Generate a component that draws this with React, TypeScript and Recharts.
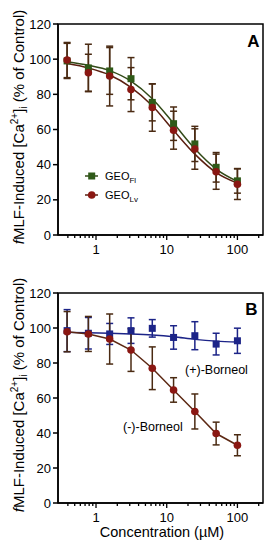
import React from 'react';
import { ComposedChart, Line, XAxis, YAxis, ErrorBar, ReferenceArea } from 'recharts';

// concentrations (µM)
const conc = [0.39, 0.78, 1.56, 3.125, 6.25, 12.5, 25, 50, 100];

// panel A
const geoFl = [99, 95, 93.3, 88.9, 75.4, 63.3, 51.8, 38.5, 30.8];
const geoFlErr = [10, 13.5, 13.3, 12, 10.5, 9.5, 10, 8.4, 7];
const geoFlFit = [98.5, 96.5, 93.5, 87.5, 77.5, 63.5, 49, 37.5, 30.5];
const geoLv = [99.5, 92.3, 90.4, 82.7, 72.5, 59.6, 48.9, 36, 28.9];
const geoLvErr = [10, 10.5, 17, 12.5, 13.5, 10.8, 11.5, 10, 8.7];
const geoLvFit = [97.5, 95, 91, 84, 73.5, 59.5, 46, 35.5, 29.5];

// panel B
const plusBorneol = [98.5, 97, 96.6, 98.5, 99.8, 94.6, 95.6, 90.8, 92.7];
const plusBorneolErr = [12, 9, 6, 7.3, 5, 6.7, 8, 6.2, 7.2];
const plusBorneolFit = [97.5, 97.3, 97, 96.6, 96, 95, 93.5, 92.5, 92];
const minusBorneol = [97.9, 96.6, 93.7, 87.4, 77, 64.6, 52.3, 39.7, 33];
const minusBorneolErr = [11.5, 10, 14.3, 12.2, 12.2, 7, 10, 6.5, 6];

const majorX = [1, 10, 100];
const minorX = [0.4, 0.5, 0.6, 0.7, 0.8, 0.9, 2, 3, 4, 5, 6, 7, 8, 9, 20, 30, 40, 50, 60, 70, 80, 90, 200];
const yTicks = [0, 20, 40, 60, 80, 100, 120];
const xDomain = [0.29, 230];

const dataA = conc.map((x, i) => ({
  x,
  fl: geoFl[i], flErr: geoFlErr[i], flFit: geoFlFit[i],
  lv: geoLv[i], lvErr: geoLvErr[i], lvFit: geoLvFit[i],
}));

const dataB = conc.map((x, i) => ({
  x,
  plus: plusBorneol[i], plusErr: plusBorneolErr[i], plusFit: plusBorneolFit[i],
  minus: minusBorneol[i], minusErr: minusBorneolErr[i],
}));

const FONT = '"Liberation Sans", Arial, sans-serif';
const ERR = '#4a2a12';
const GREEN = '#2f5a18';
const GREEN_LINE = '#334a18';
const RED = '#8a1712';
const RED_LINE = '#5a1f10';
const BLUE = '#1c2488';
const BROWN = '#5c2813';

const XTick = (props: any) => {
  const { x, y, payload } = props;
  const major = majorX.includes(payload.value);
  return (
    <g>
      <line x1={x} x2={x} y1={y} y2={y + (major ? 5 : 3)} stroke="#000" strokeWidth={1.3} />
      {major && (
        <text x={x} y={y + 18.5} textAnchor="middle" fontSize={13} fill="#000" fontFamily={FONT}>
          {payload.value}
        </text>
      )}
    </g>
  );
};

const square = (color: string) => (p: any) => (
  <rect key={`s${p.index}`} x={p.cx - 3.5} y={p.cy - 3.5} width={7} height={7} fill={color} />
);
const circle = (color: string) => (p: any) => (
  <circle key={`c${p.index}`} cx={p.cx} cy={p.cy} r={3.8} fill={color} />
);

const axes = (xh: number) => [
  <XAxis
    key="x"
    dataKey="x"
    type="number"
    scale="log"
    domain={xDomain}
    allowDataOverflow
    ticks={[...minorX, ...majorX].sort((a, b) => a - b)}
    interval={0}
    tickSize={0}
    tickMargin={0}
    tick={(p: any) => <XTick {...p} />}
    axisLine={{ stroke: '#000', strokeWidth: 1.5 }}
    height={xh}
  />,
  <YAxis
    key="y"
    type="number"
    domain={[0, 120]}
    ticks={yTicks}
    interval={0}
    width={58}
    tickSize={5}
    tickMargin={2}
    tick={{ fill: '#000', fontSize: 13, fontFamily: FONT }}
    tickLine={{ stroke: '#000', strokeWidth: 1.5 }}
    axisLine={{ stroke: '#000', strokeWidth: 1.5 }}
  />,
  <ReferenceArea key="frame" x1={xDomain[0]} x2={xDomain[1]} y1={0} y2={120} fill="none" stroke="#000" strokeWidth={1.5} ifOverflow="visible" />,
];

const YLabel = ({ cy }: { cy: number }) => (
  <text
    x={24}
    y={cy}
    transform={`rotate(-90, 24, ${cy})`}
    textAnchor="middle"
    fontSize={15}
    fill="#000"
    fontFamily={FONT}
  >
    <tspan fontStyle="italic">f</tspan>
    <tspan>MLF-Induced [Ca</tspan>
    <tspan fontSize={10} dy={-6}>2+</tspan>
    <tspan dy={6}>]</tspan>
    <tspan fontSize={10} dy={3}>i</tspan>
    <tspan dy={-3}> (% of Control)</tspan>
  </text>
);

export default function App() {
  return (
    <div style={{ position: 'absolute', left: 0, top: 0, width: 272, height: 550, fontFamily: FONT, background: '#fff' }}>
      <div style={{ position: 'absolute', left: 0, top: 0 }}>
        <ComposedChart width={272} height={268} data={dataA} margin={{ top: 24, right: 9, bottom: 3, left: 0 }}>
          {axes(30)}
          <Line dataKey="fl" stroke="none" isAnimationActive={false} dot={square(GREEN)} activeDot={false}>
            <ErrorBar dataKey="flErr" direction="y" width={3.5} stroke={ERR} strokeWidth={1.5} />
          </Line>
          <Line dataKey="lv" stroke="none" isAnimationActive={false} dot={circle(RED)} activeDot={false}>
            <ErrorBar dataKey="lvErr" direction="y" width={3.5} stroke={ERR} strokeWidth={1.5} />
          </Line>
          <Line dataKey="flFit" type="monotone" stroke={GREEN_LINE} strokeWidth={1.5} dot={false} activeDot={false} isAnimationActive={false} />
          <Line dataKey="lvFit" type="monotone" stroke={RED_LINE} strokeWidth={1.5} dot={false} activeDot={false} isAnimationActive={false} />
        </ComposedChart>
      </div>
      <div style={{ position: 'absolute', left: 0, top: 268 }}>
        <ComposedChart width={272} height={282} data={dataB} margin={{ top: 25, right: 9, bottom: 17, left: 0 }}>
          {axes(30)}
          <Line dataKey="plus" stroke="none" isAnimationActive={false} dot={square(BLUE)} activeDot={false}>
            <ErrorBar dataKey="plusErr" direction="y" width={3.5} stroke={BLUE} strokeWidth={1.5} />
          </Line>
          <Line dataKey="plusFit" type="monotone" stroke={BLUE} strokeWidth={1.5} dot={false} activeDot={false} isAnimationActive={false} />
          <Line dataKey="minus" type="linear" stroke={BROWN} strokeWidth={1.5} isAnimationActive={false} dot={circle(RED)} activeDot={false}>
            <ErrorBar dataKey="minusErr" direction="y" width={3.5} stroke={ERR} strokeWidth={1.5} />
          </Line>
        </ComposedChart>
      </div>
      <svg width={272} height={550} style={{ position: 'absolute', left: 0, top: 0, pointerEvents: 'none' }}>
        <YLabel cy={127} />
        <YLabel cy={395} />
        <text x={253.5} y={47} textAnchor="middle" fontSize={17} fontWeight="bold" fill="#000" fontFamily={FONT}>A</text>
        <text x={251.5} y={315} textAnchor="middle" fontSize={17} fontWeight="bold" fill="#000" fontFamily={FONT}>B</text>
        {/* legend */}
        <line x1={85} x2={98} y1={176} y2={176} stroke={GREEN_LINE} strokeWidth={1.5} />
        <rect x={88.2} y={172.5} width={7} height={7} fill={GREEN} />
        <text x={105} y={180} fontSize={11} fill="#000" fontFamily={FONT}>
          GEO<tspan fontSize={8} dy={3}>Fl</tspan>
        </text>
        <line x1={85} x2={98} y1={195} y2={195} stroke={RED_LINE} strokeWidth={1.5} />
        <circle cx={91.7} cy={195} r={3.8} fill={RED} />
        <text x={105} y={199} fontSize={11} fill="#000" fontFamily={FONT}>
          GEO<tspan fontSize={8} dy={3}>Lv</tspan>
        </text>
        <text x={185} y={373.5} fontSize={12.5} fill="#000" fontFamily={FONT}>(+)-Borneol</text>
        <text x={123} y={431} fontSize={12.5} fill="#000" fontFamily={FONT}>(-)-Borneol</text>
        <text x={162} y={537} textAnchor="middle" fontSize={14.5} fill="#000" fontFamily={FONT}>Concentration (µM)</text>
      </svg>
    </div>
  );
}
